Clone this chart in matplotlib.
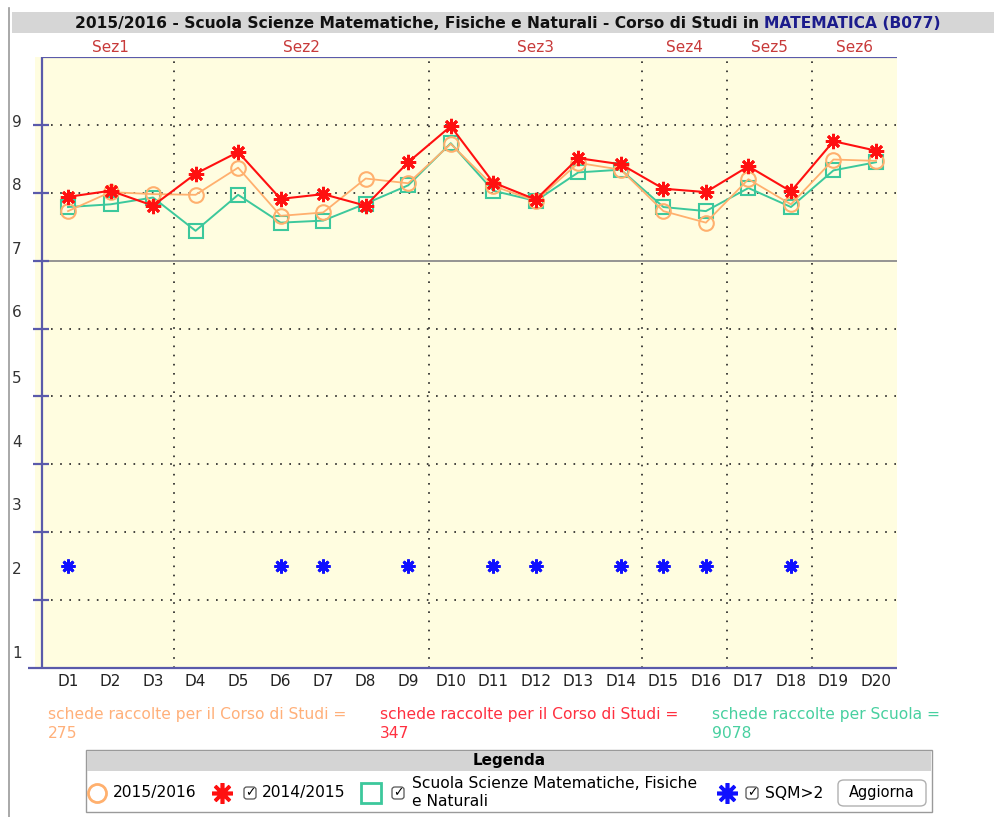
import numpy as np
import matplotlib
matplotlib.use("Agg")
import matplotlib.pyplot as plt
from matplotlib.patches import Rectangle, FancyBboxPatch
from matplotlib.lines import Line2D
from matplotlib.transforms import blended_transform_factory

# data
labels = ["D%d" % i for i in range(1, 21)]
val_2016 = [7.73, 8.01, 7.98, 7.97, 8.37, 7.66, 7.71, 8.21, 8.14, 8.72,
            8.10, 7.88, 8.44, 8.34, 7.73, 7.56, 8.20, 7.83, 8.49, 8.47]
val_2015 = [7.94, 8.03, 7.81, 8.28, 8.60, 7.91, 7.98, 7.81, 8.45, 8.98,
            8.15, 7.90, 8.51, 8.42, 8.06, 8.01, 8.39, 8.02, 8.76, 8.62]
val_scuola = [7.79, 7.83, 7.93, 7.44, 7.97, 7.56, 7.59, 7.84, 8.11, 8.73,
              8.03, 7.88, 8.30, 8.34, 7.79, 7.73, 8.07, 7.79, 8.33, 8.45]
sqm_items = ["D1", "D6", "D7", "D9", "D11", "D12", "D14", "D15", "D16", "D18"]
sqm_level = 2.5
sections = ["Sez1", "Sez2", "Sez3", "Sez4", "Sez5", "Sez6"]
section_sizes = [3, 6, 5, 2, 2, 2]
ytick_vals = [2, 3, 4, 5, 6, 7, 8, 9]
ylabel_text = ["9", "8", "7", "6", "5", "4", "3", "2", "1"]
ylabel_pos = [9.04, 8.10, 7.16, 6.23, 5.27, 4.32, 3.39, 2.45, 1.22]
n_2016, n_2015, n_scuola = 275, 347, 9078

# colours
c_orange = "#FFB06E"
c_red = "#FF1010"
c_green = "#3CC89C"
c_blue = "#1010FF"
c_axis = "#5A5AAA"
c_sez = "#C83A3A"
c_bg = "#FFFDE0"

W, H = 994, 817
fig = plt.figure(figsize=(W / 100, H / 100), dpi=100)


def fx(x):
    return x / W


def fy(y):
    return 1 - y / H


# page frame + title bar
fig.add_artist(Line2D([fx(9), fx(9)], [fy(8), fy(817)], color="#9a9a9a", lw=1.2))
fig.add_artist(Rectangle((fx(12), fy(33)), fx(994) - fx(12), fy(12) - fy(33),
                         facecolor="#D6D6D6", edgecolor="none"))

# main axes
step = (876 - 68) / 19
x0 = 1 - (68 - 35) / step
x1 = 20 + (897 - 876) / step
xax = 1 - (68 - 42) / step
ax = fig.add_axes([fx(35), fy(668), fx(897) - fx(35), fy(57) - fy(668)])
ax.set_facecolor(c_bg)
ax.set_xlim(x0, x1)
ax.set_ylim(1, 10)
for s in ax.spines.values():
    s.set_visible(False)

x = np.arange(1, 21)
ax.set_xticks(x, labels)
ax.set_yticks([])
ax.tick_params(axis="x", length=0, pad=4, labelsize=11, labelcolor="#222222")

# grid
for v in ytick_vals:
    if v == 7:
        ax.hlines(v, xax, x1, color="#8c8c8c", lw=1.3)
    else:
        ax.hlines(v, xax + 0.2, x1, color="#222222", lw=1.2, linestyles=(0, (1, 4.5)))
bounds = np.cumsum(section_sizes)[:-1] + 0.5
ax.vlines(bounds, 1, 10, color="#222222", lw=1.2, linestyles=(0, (1, 4.5)))

# axis lines and ticks
ax.vlines(xax, 1, 10, color=c_axis, lw=1.6)
ax.hlines(10, xax, x1, color=c_axis, lw=1.6)
ax.hlines(1, 1 - (68 - 28) / step, x1, color=c_axis, lw=1.6, clip_on=False)
ax.hlines(ytick_vals, 1 - (68 - 33) / step, 1 - (68 - 49) / step, color=c_axis, lw=1.6,
          clip_on=False)

trans_y = blended_transform_factory(fig.transFigure, ax.transData)
for t, p in zip(ylabel_text, ylabel_pos):
    ax.text(fx(17), p, t, transform=trans_y, ha="center", va="center", fontsize=11,
            color="#333333")

# series
ax.plot(x, val_scuola, color=c_green, lw=1.4, marker="s", ms=9.5, mfc="none", mew=1.5)
ax.plot(x, val_2016, color=c_orange, lw=1.3, marker="o", ms=10.5, mfc="none", mew=1.5)
ax.plot(x, val_2015, color=c_red, lw=1.5, marker=(8, 2, 0), ms=11, mew=2.0)
sqm_x = [labels.index(d) + 1 for d in sqm_items]
ax.plot(sqm_x, [sqm_level] * len(sqm_x), ls="none", color=c_blue, marker=(8, 2, 0),
        ms=10, mew=2.0)

# section labels
trans_x = blended_transform_factory(ax.transData, ax.transAxes)
starts = np.concatenate([[0], np.cumsum(section_sizes)[:-1]]) + 1
for name, st, sz in zip(sections, starts, section_sizes):
    ax.text(st + (sz - 1) / 2, 1 + 10 / 611, name, transform=trans_x, ha="center",
            va="center", fontsize=11, color=c_sez)

# title (black + blue part)
t1 = "2015/2016 - Scuola Scienze Matematiche, Fisiche e Naturali - Corso di Studi in "
t2 = "MATEMATICA (B077)"
r = fig.canvas.get_renderer()
a = fig.text(0, fy(23), t1, fontsize=11.2, fontweight="bold", va="center", ha="left",
             color="#111111")
b = fig.text(0, fy(23), t2, fontsize=11.2, fontweight="bold", va="center", ha="left",
             color="#1C1C8C")
w1 = a.get_window_extent(r).width
w2 = b.get_window_extent(r).width
start = 508 - (w1 + w2) / 2
a.set_x(fx(start))
b.set_x(fx(start + w1))

# counts below the chart
for xp, col, txt, n in [(48, "#FFB07A", "schede raccolte per il Corso di Studi =", n_2016),
                        (380, "#FF3040", "schede raccolte per il Corso di Studi =", n_2015),
                        (712, "#48D0A0", "schede raccolte per Scuola =", n_scuola)]:
    fig.text(fx(xp), fy(715), txt, color=col, fontsize=11.2, va="center")
    fig.text(fx(xp), fy(733), str(n), color=col, fontsize=11.2, va="center")

# legend box
fig.add_artist(Rectangle((fx(86), fy(812)), fx(932) - fx(86), fy(750) - fy(812),
                         facecolor="white", edgecolor="#9a9a9a", lw=1))
fig.add_artist(Rectangle((fx(87), fy(771)), fx(931) - fx(87), fy(751) - fy(771),
                         facecolor="#D4D4D4", edgecolor="none"))
fig.text(fx(509), fy(761), "Legenda", fontsize=11, fontweight="bold", ha="center",
         va="center")

ly = fy(793)
fig.add_artist(Line2D([fx(97)], [ly], marker="o", ms=13, mfc="none", mec=c_orange, mew=2))
fig.add_artist(Line2D([fx(222)], [ly], marker=(8, 2, 0), ms=15, mec=c_red, mew=2.6))
fig.add_artist(Line2D([fx(371)], [ly], marker="s", ms=14, mfc="none", mec=c_green, mew=2))
fig.add_artist(Line2D([fx(727)], [ly], marker=(8, 2, 0), ms=15, mec=c_blue, mew=2.6))


def checkbox(cx):
    fig.add_artist(FancyBboxPatch((fx(cx - 6), fy(799)), fx(12), fy(787) - fy(799),
                                  boxstyle="round,pad=0,rounding_size=0.003",
                                  facecolor="white", edgecolor="#555555", lw=0.9))
    fig.text(fx(cx), fy(793), "\u2713", fontsize=9, ha="center", va="center")


for cx in [250, 398, 752]:
    checkbox(cx)

fig.text(fx(113), ly, "2015/2016", fontsize=11.2, va="center")
fig.text(fx(262), ly, "2014/2015", fontsize=11.2, va="center")
fig.text(fx(412), fy(784), "Scuola Scienze Matematiche, Fisiche", fontsize=11.2, va="center")
fig.text(fx(412), fy(801), "e Naturali", fontsize=11.2, va="center")
fig.text(fx(765), ly, "SQM>2", fontsize=11.2, va="center")

fig.add_artist(FancyBboxPatch((fx(838), fy(806)), fx(926) - fx(838), fy(780) - fy(806),
                              boxstyle="round,pad=0,rounding_size=0.006",
                              facecolor="white", edgecolor="#b0b0b0", lw=1))
fig.text(fx(882), fy(793), "Aggiorna", fontsize=10.5, ha="center", va="center")

fig.savefig("out.png", dpi=100)
